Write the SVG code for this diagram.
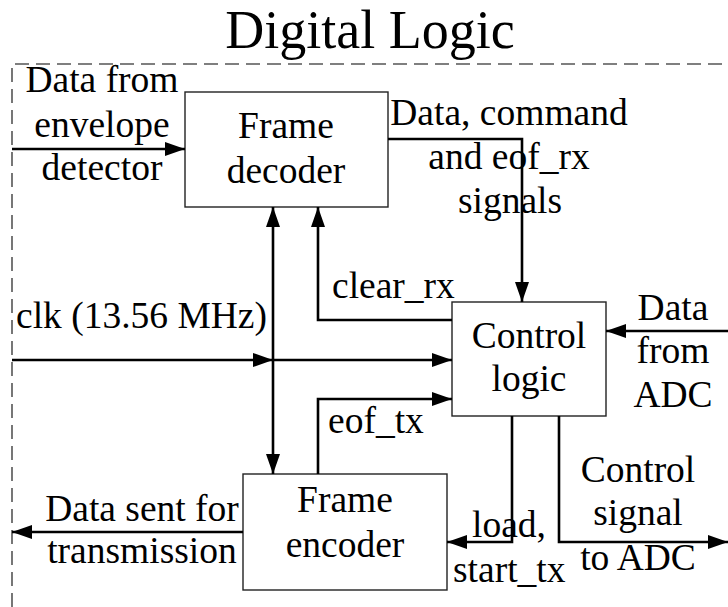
<svg xmlns="http://www.w3.org/2000/svg" width="728" height="607" viewBox="0 0 728 607">
  <style>
    text { font-family: "Liberation Serif", "Times New Roman", serif; font-size: 37.5px; fill: #000; }
    .c { text-anchor: middle; }
    .title { font-size: 54px; }
    .box { fill: #fff; stroke: #222; stroke-width: 1.4; }
    .wire { fill: none; stroke: #000; stroke-width: 2.6; }
    .frame { fill: none; stroke: #555; stroke-width: 1.6; stroke-dasharray: 14 7; }
  </style>
  <defs>
    <marker id="arrow" markerUnits="userSpaceOnUse" markerWidth="20" markerHeight="14" refX="20" refY="7" orient="auto-start-reverse">
      <path d="M0,0 L20,7 L0,14 z" fill="#000"/>
    </marker>
  </defs>

  <rect width="728" height="607" fill="#fff"/>

  <!-- Digital logic boundary -->
  <g id="boundary">
    <path class="frame" d="M12,607 V64 H728"/>
    <text class="c title" x="370" y="48">Digital Logic</text>
  </g>

  <!-- Signal labels -->
  <g id="labels">
    <text class="c" x="102" y="92">Data from</text>
    <text class="c" x="102" y="137">envelope</text>
    <text class="c" x="102" y="180">detector</text>
    <text class="c" x="509" y="125">Data, command</text>
    <text class="c" x="509" y="169">and eof_rx</text>
    <text class="c" x="510" y="213">signals</text>
    <text x="332" y="298">clear_rx</text>
    <text x="16" y="328">clk (13.56 MHz)</text>
    <text class="c" x="673" y="320">Data</text>
    <text class="c" x="673" y="363">from</text>
    <text class="c" x="673" y="407">ADC</text>
    <text x="328" y="433">eof_tx</text>
    <text class="c" x="142" y="521">Data sent for</text>
    <text class="c" x="142" y="563">transmission</text>
    <text x="472" y="537">load,</text>
    <text x="453" y="582">start_tx</text>
    <text class="c" x="638" y="482">Control</text>
    <text class="c" x="638" y="525">signal</text>
    <text class="c" x="638" y="570">to ADC</text>
  </g>

  <!-- Blocks -->
  <g id="frame-decoder">
    <rect class="box" x="185" y="92" width="203" height="115"/>
    <text class="c" x="286" y="138">Frame</text>
    <text class="c" x="286" y="183">decoder</text>
  </g>
  <g id="control-logic">
    <rect class="box" x="452" y="302" width="154" height="114"/>
    <text class="c" x="529" y="348">Control</text>
    <text class="c" x="529" y="391">logic</text>
  </g>
  <g id="frame-encoder">
    <rect class="box" x="243" y="474" width="204" height="116"/>
    <text class="c" x="345" y="512">Frame</text>
    <text class="c" x="345" y="557">encoder</text>
  </g>

  <!-- Connectors -->
  <g id="connectors">
    <path class="wire" d="M12,149 H185" marker-end="url(#arrow)"/>
    <path class="wire" d="M388,139 H522 V302" marker-end="url(#arrow)"/>
    <path class="wire" d="M452,320 H318 V207" marker-end="url(#arrow)"/>
    <path class="wire" d="M273,207 V474" marker-start="url(#arrow)" marker-end="url(#arrow)"/>
    <path class="wire" d="M12,360 H273" marker-end="url(#arrow)"/>
    <path class="wire" d="M273,360 H452" marker-end="url(#arrow)"/>
    <path class="wire" d="M728,331 H606" marker-end="url(#arrow)"/>
    <path class="wire" d="M318,474 V399 H452" marker-end="url(#arrow)"/>
    <path class="wire" d="M512,416 V542 H447" marker-end="url(#arrow)"/>
    <path class="wire" d="M559,416 V542 H728" marker-end="url(#arrow)"/>
    <path class="wire" d="M243,532 H12" marker-end="url(#arrow)"/>
  </g>
</svg>
